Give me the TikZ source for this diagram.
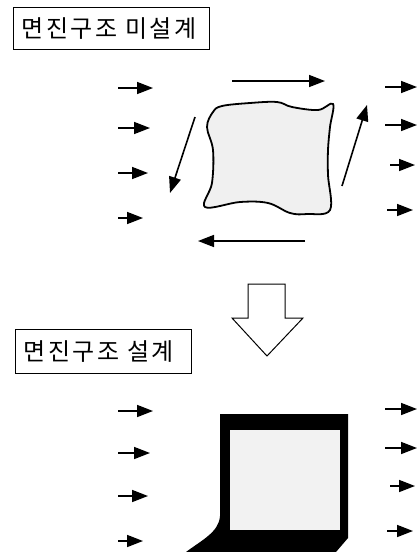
\documentclass[tikz,border=0pt]{standalone}
\usepackage{fontspec}
\newfontfamily\kofont{Noto Sans CJK KR}[LetterSpace=10]
\usetikzlibrary{arrows.meta}
\tikzset{
  flow/.style={line width=1.6pt,-{Triangle[length=16pt,width=12pt]}},
  titlebox/.style={draw,line width=1.3pt,anchor=north west,inner xsep=8pt,
    minimum height=42pt,align=left,font=\kofont\fontsize{24pt}{26pt}\selectfont},
  body/.style={line width=1.8pt,fill=gray!12}
}
\begin{document}
\begin{tikzpicture}[x=1pt,y=-1pt]
\useasboundingbox (0,0) rectangle (417,552);
% without isolation
\node[titlebox,text width=180pt] (plain) at (13,7) {면진구조\hspace{8pt}미설계};
\foreach \y/\e in {88/153,128/150,173/148,218/143}
  \draw[flow] (118,\y) -- (\e,\y);
\foreach \y/\s/\e in {87/385/417,125/385/417,165/390/415,210/387/413}
  \draw[flow] (\s,\y) -- (\e,\y);
\draw[body] plot[smooth cycle,tension=0.6] coordinates {
  (213,112) (222,106) (250,103) (277,102) (292,107) (318,110) (333,104)
  (330,127) (328,150) (328,175) (330,210)
  (307,214) (290,213) (268,203) (240,202) (205,207)
  (212,183) (213,150) (207,127)};
\draw[flow] (232,81) -- (325,81);
\draw[flow] (305,241) -- (198,241);
\draw[flow] (195,117) -- (170,193);
\draw[flow] (342,186) -- (367,105);
% hollow arrow
\draw[line width=1pt] (248,284) -- (285,284) -- (285,318) -- (303,318)
  -- (267,356) -- (232,318) -- (248,318) -- cycle;
% with isolation
\node[titlebox,text width=160pt,minimum height=44pt] (isol) at (15,329) {면진구조\hspace{8pt}설계};
\foreach \y/\e in {411/153,453/150,496/148,541/143}
  \draw[flow] (118,\y) -- (\e,\y);
\foreach \y/\s/\e in {409/385/417,448/385/417,486/390/415,531/387/413}
  \draw[flow] (\s,\y) -- (\e,\y);
\fill (220,414) -- (348,414) -- (348,538) -- (336,552) -- (186,552)
  .. controls (202,540) and (219,532) .. (220,516) -- cycle;
\fill[gray!10] (230,430) rectangle (340,530);
\end{tikzpicture}
\end{document}
